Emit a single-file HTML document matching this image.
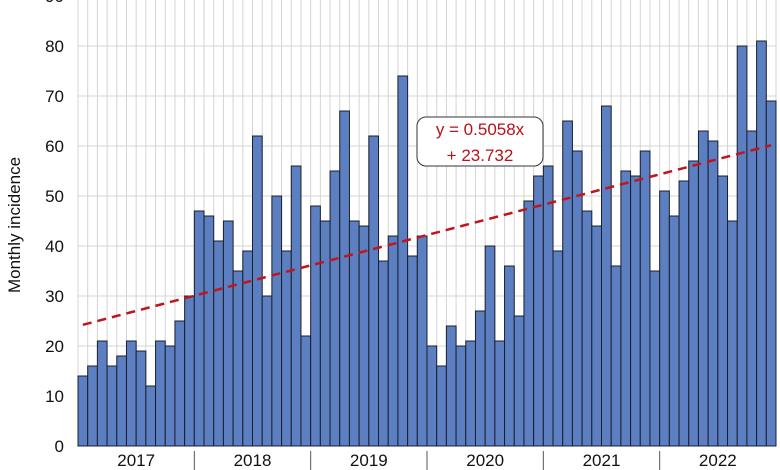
<!DOCTYPE html>
<html><head><meta charset="utf-8"><style>
html,body{margin:0;padding:0;background:#fff;}
svg{display:block;font-family:"Liberation Sans",sans-serif;}
</style></head><body>
<svg id="chart" width="780" height="470" viewBox="0 0 780 470"></svg>
<script>
const years = ["2017","2018","2019","2020","2021","2022"];
const values2017 = [14,16,21,16,18,21,19,12,21,20,25,30];
const values2018 = [47,46,41,45,35,39,62,30,50,39,56,22];
const values2019 = [48,45,55,67,45,44,62,37,42,74,38,42];
const values2020 = [20,16,24,20,21,27,40,21,36,26,49,54];
const values2021 = [56,39,65,59,47,44,68,36,55,54,59,35];
const values2022 = [51,46,53,57,63,61,54,45,80,63,81,69];
const yTicks = [0,10,20,30,40,50,60,70,80,90];
const trendSlope = 0.5058;
const trendIntercept = 23.732;
const trendLabel1 = "y = 0.5058x";
const trendLabel2 = "+ 23.732";

const values = [].concat(values2017,values2018,values2019,values2020,values2021,values2022);
const NS="http://www.w3.org/2000/svg";
const svg=document.getElementById('chart');
const X0=78, X1=776, Y0=446, PXPER=5;
const bw=(X1-X0)/values.length;
const xb=i=>X0+i*bw;
const y=v=>Y0-v*PXPER;
function mk(t,a,p){const e=document.createElementNS(NS,t);for(const k in a)e.setAttribute(k,a[k]);(p||svg).appendChild(e);return e;}

const grid=mk('g',{});


for(let i=0;i<=values.length;i++){
  const l=mk('line',{x1:xb(i),x2:xb(i),y1:0,y2:Y0,stroke:'#d4d4d4','stroke-width':1},grid);
  
  
}
yTicks.forEach(t=>{
  const l=mk('line',{x1:X0,x2:X1,y1:y(t),y2:y(t),stroke:'#d4d4d4','stroke-width':1},grid);
  
  
  const tx=mk('text',{x:64,y:y(t)+6,'text-anchor':'end','font-size':17,fill:'#111'});
  tx.textContent=t;
  
  
});

values.forEach((v,i)=>{
  const r=mk('rect',{x:xb(i),y:y(v),width:bw,height:v*PXPER,fill:'#5b7fc0',stroke:'#1a1f2e','stroke-width':1});
  
  
});

const tl=mk('line',{x1:xb(0)+bw/2,y1:y(trendSlope*1+trendIntercept),x2:xb(values.length-1)+bw/2,y2:y(trendSlope*values.length+trendIntercept),stroke:'#c0151c','stroke-width':2.5,'stroke-dasharray':'9,6'});



const box=mk('rect',{x:417,y:117,width:126,height:49,rx:9,fill:'#fff',stroke:'#333','stroke-width':1});


const e1=mk('text',{x:480,y:135,'text-anchor':'middle','font-size':17,fill:'#b8121a'});
e1.textContent=trendLabel1;


const e2=mk('text',{x:480,y:161,'text-anchor':'middle','font-size':17,fill:'#b8121a'});
e2.textContent=trendLabel2;



years.forEach((yr,k)=>{
  const cx=xb(k*12+6);
  const t=mk('text',{x:cx,y:466,'text-anchor':'middle','font-size':17,fill:'#111'});
  t.textContent=yr;
  
  
  if(k>0){
    const d=mk('line',{x1:xb(k*12),x2:xb(k*12),y1:451,y2:470,stroke:'#555','stroke-width':1});
    
    
  }
});

const at=mk('text',{x:0,y:0,'text-anchor':'middle','font-size':17,fill:'#111',transform:'translate(20,225) rotate(-90)'});
at.textContent='Monthly incidence';


</script>
</body></html>
